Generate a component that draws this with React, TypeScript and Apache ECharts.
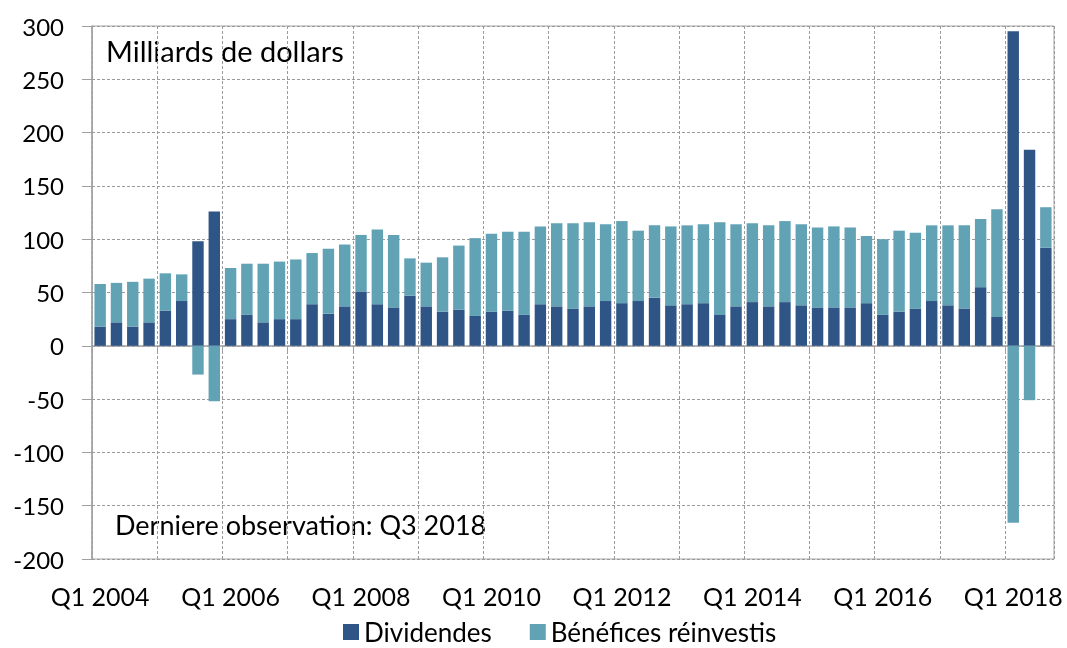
import React, { useEffect, useRef } from "react";
import * as echarts from "echarts";

const years = [2004, 2005, 2006, 2007, 2008, 2009, 2010, 2011, 2012, 2013, 2014, 2015, 2016, 2017, 2018];
const quarters = ["Q1", "Q2", "Q3", "Q4"];
const categories: string[] = [];
years.forEach((y) => quarters.forEach((q) => categories.push(`${q} ${y}`)));
categories.splice(59); // last observation: Q3 2018

const dividendes = [
  18, 22, 18, 22, 33, 42, 98, 126,
  25, 29, 22, 25, 25, 39, 30, 37,
  51, 39, 36, 47, 37, 32, 34, 28,
  32, 33, 29, 39, 37, 35, 37, 42,
  40, 42, 45, 38, 39, 40, 29, 37,
  41, 37, 41, 38, 36, 36, 36, 40,
  29, 32, 35, 42, 38, 35, 55, 27,
  295, 184, 92,
];

const benefices = [
  40, 37, 42, 41, 35, 25, -27, -52,
  48, 48, 55, 54, 56, 48, 61, 58,
  53, 70, 68, 35, 41, 51, 60, 73,
  73, 74, 78, 73, 78, 80, 79, 72,
  77, 66, 68, 74, 74, 74, 87, 77,
  74, 76, 76, 76, 75, 76, 75, 63,
  71, 76, 71, 71, 75, 78, 64, 101,
  -166, -51, 38,
];

const yTicks = { min: -200, max: 300, interval: 50 };
const FONT = "Lato";

export default function App() {
  const ref = useRef<HTMLDivElement>(null);
  useEffect(() => {
    if (!ref.current) return;
    const chart = echarts.init(ref.current, undefined, { renderer: "svg" });
    const yearBoundary = (i: number) => i % 4 === 0;
    chart.setOption({
      animation: false,
      textStyle: { fontFamily: FONT, color: "#000" },
      grid: {
        left: 92,
        right: 13,
        top: 26,
        bottom: 89,
        show: true,
        borderColor: "#a6a6a6",
        borderWidth: 1,
      },
      legend: {
        top: 618,
        left: 343,
        padding: 0,
        itemWidth: 16,
        itemHeight: 16,
        itemGap: 38,
        icon: "rect",
        textStyle: { fontFamily: FONT, fontSize: 26, lineHeight: 28, color: "#000" },
        data: ["Dividendes", "Bénéfices réinvestis"],
      },
      xAxis: [
        {
          type: "category",
          data: categories,
          position: "bottom",
          boundaryGap: true,
          axisLine: { onZero: true, lineStyle: { color: "#a0a0a0", width: 1.5 } },
          axisTick: { show: true, interval: yearBoundary, length: 6, lineStyle: { color: "#a0a0a0" } },
          axisLabel: { show: false },
          splitLine: {
            show: true,
            interval: yearBoundary,
            lineStyle: { color: "#9a9a9a", type: [3, 2], width: 1 },
          },
        },
        {
          type: "category",
          data: categories,
          position: "bottom",
          boundaryGap: true,
          axisLine: { show: false, onZero: false },
          axisTick: { show: false },
          splitLine: { show: false },
          axisLabel: {
            show: true,
            interval: 7,
            margin: 24,
            fontSize: 25,
            fontFamily: FONT,
            color: "#000",
          },
        },
      ],
      yAxis: {
        type: "value",
        min: yTicks.min,
        max: yTicks.max,
        interval: yTicks.interval,
        axisLine: { show: true, lineStyle: { color: "#a0a0a0", width: 1.5 } },
        axisTick: { show: true, length: 10, lineStyle: { color: "#a0a0a0" } },
        axisLabel: { fontSize: 24, fontFamily: FONT, color: "#000", margin: 28 },
        splitLine: { show: true, lineStyle: { color: "#9a9a9a", type: [3, 2], width: 1 } },
      },
      series: [
        {
          name: "Dividendes",
          type: "bar",
          stack: "total",
          xAxisIndex: 0,
          data: dividendes,
          barCategoryGap: "30%",
          itemStyle: { color: "#2F5587" },
        },
        {
          name: "Bénéfices réinvestis",
          type: "bar",
          stack: "total",
          xAxisIndex: 0,
          data: benefices,
          barCategoryGap: "30%",
          itemStyle: { color: "#61A2B5" },
        },
      ],
      graphic: [
        {
          type: "text",
          left: 106,
          top: 36,
          style: { text: "Milliards de dollars", fontFamily: FONT, fontSize: 29, fill: "#000" },
        },
        {
          type: "text",
          left: 115,
          top: 511,
          style: { text: "Derniere observation: Q3 2018", fontFamily: FONT, fontSize: 27, fill: "#000" },
        },
      ],
    });
    return () => chart.dispose();
  }, []);
  return (
    <div
      ref={ref}
      style={{ position: "fixed", left: 0, top: 0, width: 1067, height: 648 }}
    />
  );
}
